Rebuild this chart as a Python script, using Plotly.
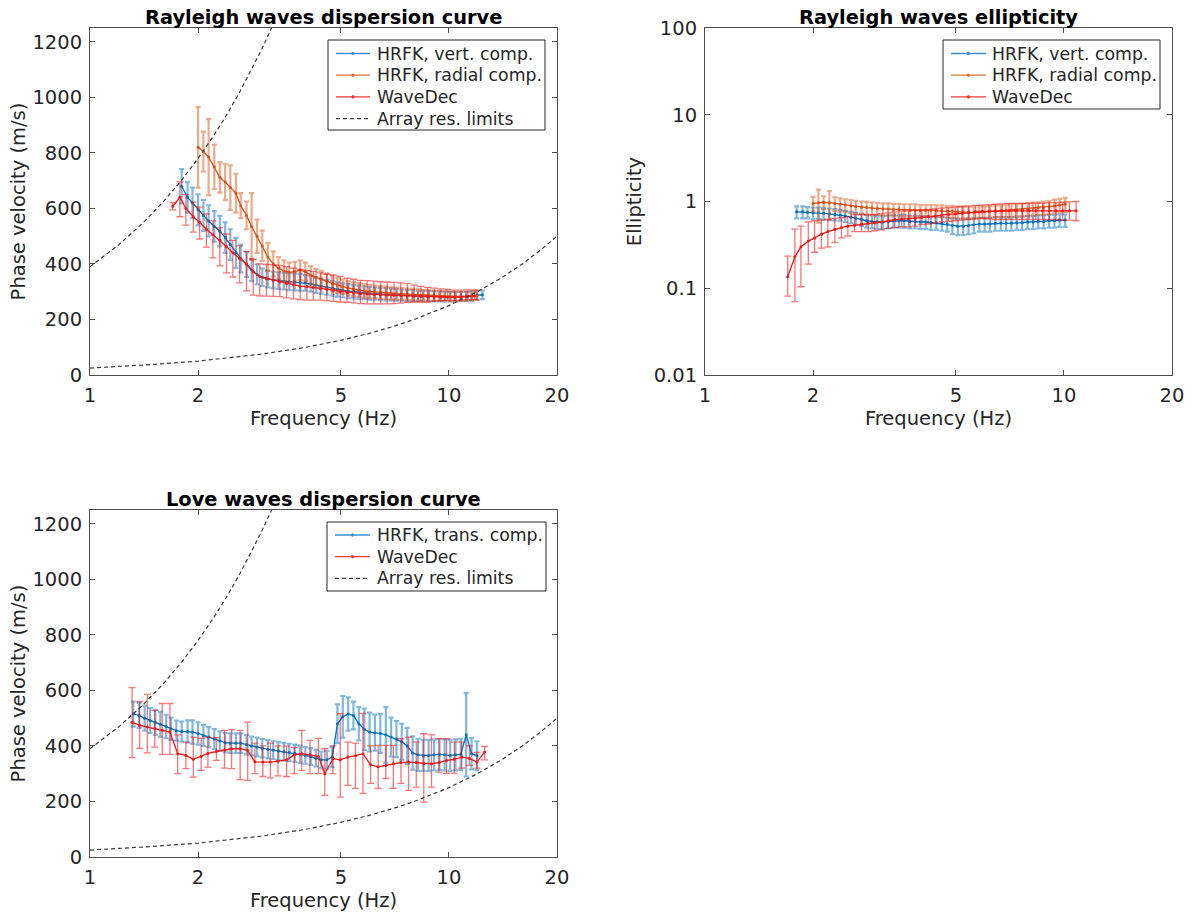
import math
import plotly.graph_objects as go

# ---------------- data ----------------
# HRFK frequency grid (Hz)
freq_hrfk = [1.32, 1.37, 1.42, 1.47, 1.52, 1.57, 1.63, 1.68, 1.74, 1.80,
             1.87, 1.93, 2.00, 2.07, 2.14, 2.22, 2.30, 2.38, 2.46, 2.55,
             2.63, 2.73, 2.82, 2.92, 3.02, 3.13, 3.24, 3.35, 3.47, 3.59,
             3.72, 3.85, 3.98, 4.12, 4.26, 4.41, 4.57, 4.73, 4.89, 5.06,
             5.24, 5.42, 5.61, 5.81, 6.01, 6.22, 6.44, 6.67, 6.90, 7.14,
             7.39, 7.65, 7.92, 8.20, 8.48, 8.78, 9.09, 9.41, 9.73, 10.08,
             10.43, 10.79, 11.17, 11.56, 11.97, 12.39]

# WaveDec frequency grid, Rayleigh (Hz)
ray_wd_f = [1.70, 1.78, 1.85, 1.94, 2.02, 2.11, 2.20, 2.30, 2.40, 2.50,
            2.61, 2.73, 2.85, 2.97, 3.10, 3.24, 3.38, 3.53, 3.69, 3.85,
            4.02, 4.19, 4.38, 4.57, 4.77, 4.98, 5.20, 5.43, 5.67, 5.92,
            6.18, 6.45, 6.73, 7.03, 7.34, 7.66, 8.00, 8.35, 8.72, 9.10,
            9.50, 9.92, 10.36, 10.81, 11.29, 11.79]

# --- Rayleigh dispersion: HRFK vertical component (m/s)
ray_vert_f = freq_hrfk[9:66]
ray_vert_v = [680, 640, 620, 595, 575, 555, 535, 518, 495, 470,
              440, 420, 398, 378, 362, 352, 346, 342, 340, 338,
              336, 335, 334, 332, 328, 324, 320, 316, 312, 308,
              305, 302, 300, 298, 296, 294, 293, 292, 291, 290,
              289, 288, 287, 286, 285, 284, 284, 283, 283, 282,
              282, 282, 283, 284, 285, 287, 289]
ray_vert_e = [62, 55, 55, 56, 56, 56, 55, 55, 55, 55,
              54, 50, 45, 40, 36, 32, 30, 30, 30, 30,
              30, 30, 30, 28, 28, 28, 27, 27, 26, 26,
              25, 25, 24, 24, 23, 23, 22, 22, 22, 21,
              21, 20, 20, 20, 19, 19, 18, 18, 18, 17,
              17, 17, 16, 16, 16, 16, 16]

# --- Rayleigh dispersion: HRFK radial component (m/s)
ray_rad_f = freq_hrfk[12:65]
ray_rad_v = [820, 805, 785, 750, 712, 695, 675, 655, 610, 575,
             535, 500, 465, 425, 400, 385, 375, 370, 372, 378,
             372, 360, 352, 345, 338, 330, 323, 318, 313, 309,
             306, 303, 301, 299, 297, 296, 294, 293, 292, 291,
             290, 289, 288, 287, 286, 285, 284, 283, 282, 282,
             283, 284, 286]
ray_rad_e = [145, 72, 137, 80, 55, 65, 80, 70, 45, 50,
             120, 60, 55, 50, 45, 40, 38, 35, 35, 35,
             33, 32, 30, 30, 28, 28, 27, 26, 26, 25,
             25, 24, 24, 23, 23, 22, 22, 21, 21, 20,
             20, 20, 19, 19, 18, 18, 18, 17, 17, 17,
             16, 16, 16]

# --- Rayleigh dispersion: WaveDec (m/s)
ray_wd_v = [608, 640, 600, 570, 550, 525, 505, 485, 463, 440,
            420, 400, 372, 355, 348, 342, 335, 330, 325, 320,
            318, 315, 312, 308, 305, 300, 297, 295, 293, 292,
            290, 289, 288, 287, 286, 285, 284, 283, 282, 281,
            280, 280, 280, 281, 283, 285]
ray_wd_ep = [13, 56, 50, 53, 55, 55, 50, 45, 45, 45,
             45, 45, 45, 45, 50, 55, 60, 60, 60, 60,
             58, 58, 56, 55, 55, 55, 52, 50, 48, 48,
             48, 47, 47, 47, 46, 44, 40, 36, 34, 32,
             30, 28, 26, 25, 24, 22]
ray_wd_em = [13, 70, 60, 55, 60, 64, 83, 92, 95, 87,
             88, 97, 84, 70, 64, 59, 53, 52, 51, 48,
             48, 45, 42, 40, 40, 37, 35, 35, 36, 36,
             34, 33, 32, 30, 27, 23, 21, 20, 19, 15,
             12, 11, 11, 11, 12, 13]

# --- Rayleigh ellipticity: HRFK vertical component
ell_vert_f = freq_hrfk[9:60]
ell_vert_v = [0.76, 0.76, 0.75, 0.74, 0.74, 0.73, 0.72, 0.71, 0.70, 0.68,
              0.66, 0.64, 0.62, 0.60, 0.59, 0.58, 0.58, 0.59, 0.60, 0.60,
              0.60, 0.59, 0.59, 0.58, 0.58, 0.57, 0.57, 0.56, 0.55, 0.53,
              0.52, 0.52, 0.53, 0.54, 0.55, 0.55, 0.55, 0.56, 0.56, 0.56,
              0.56, 0.57, 0.57, 0.58, 0.58, 0.59, 0.59, 0.60, 0.60, 0.61,
              0.61]
ell_vert_e = [0.12, 0.12, 0.11, 0.11, 0.11, 0.11, 0.11, 0.11, 0.10, 0.10,
              0.10, 0.10, 0.10, 0.10, 0.10, 0.10, 0.10, 0.10, 0.10, 0.10,
              0.10, 0.10, 0.10, 0.10, 0.10, 0.10, 0.10, 0.10, 0.10, 0.11,
              0.11, 0.11, 0.11, 0.11, 0.10, 0.10, 0.10, 0.10, 0.10, 0.10,
              0.10, 0.10, 0.10, 0.10, 0.10, 0.10, 0.10, 0.10, 0.10, 0.10,
              0.10]

# --- Rayleigh ellipticity: HRFK radial component
ell_rad_f = freq_hrfk[12:60]
ell_rad_v = [0.95, 0.97, 0.98, 0.97, 0.95, 0.93, 0.91, 0.89, 0.87, 0.86,
             0.85, 0.84, 0.83, 0.82, 0.82, 0.81, 0.81, 0.80, 0.80, 0.80,
             0.79, 0.79, 0.79, 0.78, 0.78, 0.77, 0.77, 0.76, 0.76, 0.75,
             0.75, 0.76, 0.76, 0.77, 0.78, 0.78, 0.79, 0.80, 0.80, 0.81,
             0.82, 0.83, 0.84, 0.85, 0.87, 0.89, 0.91, 0.93]
ell_rad_e = [0.18, 0.40, 0.17, 0.35, 0.17, 0.16, 0.15, 0.15, 0.15, 0.14,
             0.14, 0.14, 0.13, 0.13, 0.13, 0.13, 0.13, 0.13, 0.13, 0.13,
             0.12, 0.12, 0.12, 0.12, 0.12, 0.12, 0.12, 0.12, 0.12, 0.12,
             0.12, 0.12, 0.12, 0.12, 0.12, 0.12, 0.13, 0.13, 0.13, 0.13,
             0.14, 0.14, 0.14, 0.15, 0.15, 0.16, 0.16, 0.17]

# --- Rayleigh ellipticity: WaveDec (centre, lower and upper bounds)
ell_wd_f = ray_wd_f[:44]
ell_wd_v = [0.136, 0.23, 0.30, 0.35, 0.38, 0.42, 0.45, 0.48, 0.50, 0.52,
            0.53, 0.55, 0.56, 0.57, 0.58, 0.60, 0.62, 0.63, 0.63, 0.64,
            0.66, 0.67, 0.68, 0.70, 0.71, 0.72, 0.73, 0.75, 0.76, 0.77,
            0.77, 0.77, 0.78, 0.78, 0.78, 0.78, 0.78, 0.78, 0.78, 0.78,
            0.78, 0.78, 0.78, 0.78]
ell_wd_lo = [0.081, 0.07, 0.104, 0.19, 0.26, 0.29, 0.30, 0.335, 0.38, 0.40,
             0.45, 0.45, 0.45, 0.46, 0.47, 0.49, 0.50, 0.51, 0.51, 0.52,
             0.54, 0.55, 0.56, 0.58, 0.59, 0.60, 0.61, 0.62, 0.63, 0.64,
             0.63, 0.62, 0.62, 0.62, 0.62, 0.62, 0.62, 0.62, 0.62, 0.62,
             0.62, 0.61, 0.61, 0.60]
ell_wd_hi = [0.235, 0.48, 0.52, 0.58, 0.60, 0.61, 0.62, 0.64, 0.65, 0.67,
             0.70, 0.70, 0.70, 0.71, 0.72, 0.74, 0.76, 0.78, 0.78, 0.79,
             0.80, 0.81, 0.82, 0.84, 0.85, 0.86, 0.87, 0.89, 0.90, 0.91,
             0.92, 0.93, 0.94, 0.95, 0.95, 0.95, 0.96, 0.96, 0.96, 0.97,
             0.97, 0.98, 0.99, 1.00]

# --- Love dispersion: HRFK transverse component (m/s)
love_tr_f = freq_hrfk[0:65]
love_tr_v = [515, 510, 500, 492, 485, 478, 470, 462, 455, 452,
             452, 450, 445, 438, 432, 425, 418, 412, 410, 410,
             410, 405, 400, 396, 392, 388, 385, 382, 379, 377,
             374, 370, 366, 362, 356, 350, 350, 360, 480, 505,
             515, 510, 480, 460, 450, 448, 445, 440, 432, 425,
             415, 400, 375, 368, 366, 366, 368, 370, 368, 366,
             368, 370, 440, 372, 365]
love_tr_e = [45, 45, 45, 45, 45, 45, 42, 40, 36, 36,
             40, 42, 40, 38, 36, 36, 35, 35, 35, 35,
             35, 35, 34, 34, 33, 33, 32, 32, 32, 31,
             31, 31, 30, 30, 30, 30, 32, 36, 70, 75,
             60, 50, 60, 75, 70, 65, 70, 100, 70, 65,
             65, 65, 60, 58, 56, 56, 56, 56, 56, 56,
             56, 56, 150, 56, 52]

# --- Love dispersion: WaveDec (centre, lower and upper bounds, m/s)
love_wd_f = [1.31, 1.375, 1.445, 1.515, 1.59, 1.67, 1.755, 1.85, 1.94, 2.04,
             2.13, 2.25, 2.37, 2.48, 2.62, 2.75, 2.88, 3.03, 3.18, 3.34,
             3.53, 3.71, 3.89, 4.10, 4.33, 4.51, 4.75, 4.98, 5.23, 5.49,
             5.76, 6.05, 6.35, 6.67, 7.00, 7.35, 7.72, 8.11, 8.51, 8.94,
             9.38, 9.85, 10.35, 10.86, 11.40, 11.97, 12.57]
love_wd_v = [485, 475, 468, 463, 457, 450, 372, 366, 352, 362,
             373, 380, 385, 390, 390, 384, 343, 342, 342, 345,
             350, 368, 372, 368, 362, 300, 354, 350, 360, 365,
             372, 332, 325, 330, 336, 340, 342, 340, 336, 336,
             340, 348, 352, 360, 355, 342, 378]
love_wd_lo = [358, 391, 375, 396, 370, 370, 300, 318, 288, 312,
              324, 348, 320, 318, 279, 276, 300, 290, 285, 292,
              290, 300, 312, 300, 300, 222, 300, 216, 258, 247,
              229, 265, 247, 283, 247, 265, 240, 252, 198, 252,
              306, 301, 301, 320, 330, 320, 350]
love_wd_hi = [610, 560, 586, 528, 553, 553, 440, 414, 432, 428,
              432, 430, 456, 459, 456, 486, 410, 400, 410, 400,
              400, 395, 456, 420, 427, 390, 400, 516, 414, 410,
              517, 400, 402, 402, 402, 426, 432, 414, 444, 440,
              426, 426, 414, 414, 400, 377, 398]

# --- Array resolution limits
res_up_f = [1.0, 1.2, 1.4, 1.6, 1.8, 2.0, 2.2, 2.4, 2.6, 2.8, 3.0, 3.2, 3.4]
res_up_v = [390, 468, 546, 624, 702, 780, 858, 936, 1014, 1092, 1170, 1248, 1326]
res_lo_f = [1.0, 1.5, 2.0, 2.5, 3.0, 4.0, 5.0, 6.0, 7.0, 8.0, 9.0, 10.0,
            12.0, 14.0, 16.0, 18.0, 20.0]
res_lo_v = [25, 38, 50, 63, 75, 100, 125, 150, 175, 200, 225, 250,
            300, 350, 400, 450, 500]

x_ticks = [1, 2, 5, 10, 20]
x_ticktext = ['1', '2', '5', '10', '20']
vel_ticks = [0, 200, 400, 600, 800, 1000, 1200]
ell_ticks = [0.01, 0.1, 1, 10, 100]
ell_ticktext = ['0.01', '0.1', '1', '10', '100']

titles = ['Rayleigh waves dispersion curve', 'Rayleigh waves ellipticity',
          'Love waves dispersion curve']
legend1_names = ['HRFK, vert. comp.', 'HRFK, radial comp.', 'WaveDec', 'Array res. limits']
legend2_names = ['HRFK, vert. comp.', 'HRFK, radial comp.', 'WaveDec']
legend3_names = ['HRFK, trans. comp.', 'WaveDec', 'Array res. limits']

# ---------------- style ----------------
W, H = 1192, 914
FONT = 'DejaVu Sans'
TXT = '#262626'
BLUE, BLUE_BAR = '#0072BD', 'rgba(0,114,189,0.5)'
ORANGE, ORANGE_BAR = '#D95319', 'rgba(217,83,25,0.5)'
RED, RED_BAR = '#F01818', 'rgba(255,0,0,0.55)'
DASH = '#3a3a3a'
DASH_STYLE = '4px,3px'
TICK_SIZE = 19.5
LABEL_SIZE = 19.5
TITLE_SIZE = 19.4
LEGEND_SIZE = 17.3


def px(x):
    return x / W


def py(y):
    return 1 - y / H


fig = go.Figure()


def series(x, y, ep, em, color, bar, name, xa, ya, thick, cap):
    fig.add_trace(go.Scatter(
        x=x, y=y, mode='lines+markers', name=name, showlegend=False,
        line=dict(color=color, width=1.3), marker=dict(size=3, color=color),
        error_y=dict(type='data', array=ep, arrayminus=em, symmetric=False,
                     color=bar, thickness=thick, width=cap),
        xaxis=xa, yaxis=ya))


def limits(xa, ya):
    fig.add_trace(go.Scatter(
        x=res_up_f + [None] + res_lo_f, y=res_up_v + [None] + res_lo_v,
        mode='lines', name='Array res. limits', showlegend=False,
        line=dict(color=DASH, width=1.2, dash=DASH_STYLE),
        xaxis=xa, yaxis=ya, connectgaps=False))


# Panel 1
series(ray_vert_f, ray_vert_v, ray_vert_e, ray_vert_e, BLUE, BLUE_BAR,
       'HRFK, vert. comp.', 'x', 'y', 2.2, 2.5)
series(ray_rad_f, ray_rad_v, ray_rad_e, ray_rad_e, ORANGE, ORANGE_BAR,
       'HRFK, radial comp.', 'x', 'y', 2.2, 2.5)
series(ray_wd_f, ray_wd_v, ray_wd_ep, ray_wd_em, RED, RED_BAR,
       'WaveDec', 'x', 'y', 1.3, 3.5)
limits('x', 'y')

# Panel 2
series(ell_vert_f, ell_vert_v, ell_vert_e, ell_vert_e, BLUE, BLUE_BAR,
       'HRFK, vert. comp.', 'x2', 'y2', 2.2, 2.5)
series(ell_rad_f, ell_rad_v, ell_rad_e, ell_rad_e, ORANGE, ORANGE_BAR,
       'HRFK, radial comp.', 'x2', 'y2', 2.2, 2.5)
ell_ep = [h - v for h, v in zip(ell_wd_hi, ell_wd_v)]
ell_em = [v - l for l, v in zip(ell_wd_lo, ell_wd_v)]
series(ell_wd_f, ell_wd_v, ell_ep, ell_em, RED, RED_BAR,
       'WaveDec', 'x2', 'y2', 1.3, 3.5)

# Panel 3
series(love_tr_f, love_tr_v, love_tr_e, love_tr_e, BLUE, BLUE_BAR,
       'HRFK, trans. comp.', 'x3', 'y3', 2.2, 2.5)
love_ep = [h - v for h, v in zip(love_wd_hi, love_wd_v)]
love_em = [v - l for l, v in zip(love_wd_lo, love_wd_v)]
series(love_wd_f, love_wd_v, love_ep, love_em, RED, RED_BAR,
       'WaveDec', 'x3', 'y3', 1.3, 3.5)
limits('x3', 'y3')

# ---------------- layout ----------------
def xdom(a, b):
    return [px(a), px(b)]


def ydom(top, bottom):
    return [py(bottom), py(top)]


tickfont = dict(family=FONT, size=TICK_SIZE, color=TXT)
titlefont = dict(family=FONT, size=LABEL_SIZE, color=TXT)
axis_common = dict(showline=True, linecolor='#4d4d4d', linewidth=1, mirror='ticks',
                   ticks='inside', ticklen=5, tickcolor='#4d4d4d', showgrid=False,
                   zeroline=False, tickfont=tickfont, ticklabelstandoff=3,
                   automargin=False)


def xaxis(dom, anchor):
    return dict(domain=dom, anchor=anchor, type='log', range=[0, math.log10(20)],
                tickvals=x_ticks, ticktext=x_ticktext,
                title=dict(text='Frequency (Hz)', font=titlefont, standoff=4),
                **axis_common)


def yvel(dom, anchor):
    return dict(domain=dom, anchor=anchor, range=[0, 1250], tickvals=vel_ticks,
                title=dict(text='Phase velocity (m/s)', font=titlefont, standoff=1),
                **axis_common)


annotations = []
shapes = []
for text, cx, cy in [(titles[0], 323.5, 17), (titles[1], 938.5, 17), (titles[2], 323.5, 499)]:
    annotations.append(dict(text='<b>' + text + '</b>', x=px(cx), y=py(cy),
                            xref='paper', yref='paper', xanchor='center', yanchor='middle',
                            showarrow=False,
                            font=dict(family=FONT, size=TITLE_SIZE, color='black')))


def legend_box(left, top, right, bottom, sample_x0, sample_x1, text_x, row_y0, row_dy,
               names, styles):
    shapes.append(dict(type='rect', xref='paper', yref='paper',
                       x0=px(left), x1=px(right), y0=py(bottom), y1=py(top),
                       line=dict(color=TXT, width=1), fillcolor='white', layer='above'))
    for i, (name, (color, dash, dot)) in enumerate(zip(names, styles)):
        yc = row_y0 + i * row_dy
        shapes.append(dict(type='line', xref='paper', yref='paper',
                           x0=px(sample_x0), x1=px(sample_x1), y0=py(yc), y1=py(yc),
                           line=dict(color=color, width=1.3, dash=dash), layer='above'))
        if dot:
            xm = (sample_x0 + sample_x1) / 2
            shapes.append(dict(type='circle', xref='paper', yref='paper',
                               x0=px(xm - 1.3), x1=px(xm + 1.3),
                               y0=py(yc + 1.3), y1=py(yc - 1.3),
                               line=dict(color=color, width=0.8), fillcolor=color,
                               layer='above'))
        annotations.append(dict(text=name, x=px(text_x), y=py(yc), xref='paper',
                                yref='paper', xanchor='left', yanchor='middle',
                                showarrow=False,
                                font=dict(family=FONT, size=LEGEND_SIZE, color=TXT)))


S_BLUE = ('#3d8fd0', 'solid', True)
S_ORANGE = ('#e0703a', 'solid', True)
S_RED = ('#f03838', 'solid', True)
S_DASH = (DASH, DASH_STYLE, False)

legend_box(328, 40, 545, 130, 336, 370, 375, 53.5, 21.7, legend1_names,
           [S_BLUE, S_ORANGE, S_RED, S_DASH])
legend_box(943, 40, 1160, 109, 951, 986, 990, 53.5, 21.7, legend2_names,
           [S_BLUE, S_ORANGE, S_RED])
legend_box(327, 522, 546, 591, 335, 370, 375, 535, 21.7, legend3_names,
           [S_BLUE, S_RED, S_DASH])

fig.update_layout(
    width=W, height=H, margin=dict(l=0, r=0, t=0, b=0, autoexpand=False),
    autosize=False,
    paper_bgcolor='white', plot_bgcolor='white',
    font=dict(family=FONT, size=17, color=TXT),
    xaxis=xaxis(xdom(90, 557), 'y'),
    yaxis=yvel(ydom(28, 375), 'x'),
    xaxis2=xaxis(xdom(705, 1172), 'y2'),
    yaxis2=dict(domain=ydom(28, 375), anchor='x2', type='log', range=[-2, 2],
                tickvals=ell_ticks, ticktext=ell_ticktext,
                title=dict(text='Ellipticity', font=titlefont, standoff=6),
                **axis_common),
    xaxis3=xaxis(xdom(90, 557), 'y3'),
    yaxis3=yvel(ydom(510, 857), 'x3'),
    shapes=shapes,
    annotations=annotations,
    showlegend=False,
)

fig.write_html('out.html')
